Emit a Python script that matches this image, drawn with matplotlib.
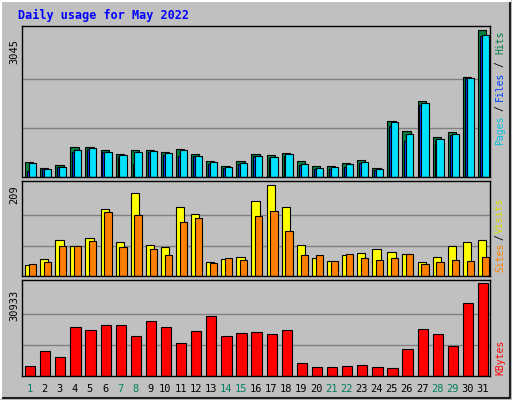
import matplotlib
matplotlib.use("Agg")
import matplotlib.pyplot as plt
import numpy as np

days = list(range(1, 32))
weekend = [1, 7, 8, 14, 15, 21, 22, 28, 29]
hits = [309,188,249,632,632,551,470,571,551,511,591,470,329,228,329,470,450,491,329,228,228,289,349,188,1156,954,1579,833,934,2083,3045]
files = [289,168,208,551,611,511,450,511,531,491,551,430,309,208,289,430,410,470,269,188,208,269,309,168,1136,894,1539,793,894,2063,2950]
pages = [128,168,208,511,591,511,410,269,511,450,430,430,269,188,269,430,390,430,249,168,168,208,289,148,1055,753,1499,773,874,2063,2930]
visits = [26,39,83,68,87,153,77,189,72,66,157,142,32,39,43,172,209,157,72,41,34,47,53,62,56,51,32,43,68,77,83]
sites = [28,32,68,68,79,146,66,140,62,49,123,132,30,41,37,138,149,102,47,47,34,51,41,37,41,51,28,32,37,34,43]
kbytes = [3354,8220,6275,16334,15360,16983,16983,13413,18280,16334,10817,15035,19902,13413,14386,14710,14062,15360,4327,3029,3029,3354,3677,3029,2704,8869,15684,14062,9843,24120,30933]

W, H = 512, 400
BG = "#C0C0C0"
fig = plt.figure(figsize=(W/100, H/100), dpi=100, facecolor=BG)
mono = "DejaVu Sans Mono"

bax = fig.add_axes([0, 0, 1, 1]); bax.set_xlim(0, W); bax.set_ylim(H, 0); bax.axis("off")
bax.plot([1, W-2, W-2], [H-2, H-2, 1], color="#202020", lw=1.5)
bax.plot([1, 1, W-2], [H-2, 1, 1], color="white", lw=1.5)
bax.text(18, 15, "Daily usage for May 2022", color="#0000FF", fontsize=8.5, fontweight="bold",
         family=mono, va="center")

def panel(top, bottom):
    ax = fig.add_axes([22/W, 1-bottom/H, (490-22)/W, (bottom-top)/H])
    ax.set_facecolor(BG)
    ax.set_xlim(0.5, 31.5)
    ax.set_xticks([]); ax.set_yticks([])
    for s in ax.spines.values():
        s.set_color("black"); s.set_linewidth(1)
    return ax

def grid(ax, vmax, gmax):
    ax.set_ylim(0, vmax)
    for f in (1/3, 2/3):
        ax.axhline(gmax*f, color="#808080", lw=1, zorder=0)

def bars(ax, vals, x0, w, color):
    ax.bar(np.array(days)+x0, vals, width=w, align="edge", color=color, edgecolor="black", lw=0.8, zorder=2)

def side(items):
    for txt, c, y in items:
        fig.text(500/W, 1-y/H, txt, rotation=90, fontsize=7, family=mono, color=c, va="center", ha="center")

ax1 = panel(26, 177); grid(ax1, 3045*1.03, 3045)
bars(ax1, hits, -0.3, 0.55, "#008040")
bars(ax1, pages, -0.17, 0.3, "#0040FF")
bars(ax1, files, -0.05, 0.48, "#00E0FF")
fig.text(14/W, 1-52/H, "3045", rotation=90, fontsize=7.5, family=mono, va="center", ha="center")
side([("Hits", "#008040", 42), ("/", "black", 64), ("Files", "#0040FF", 86), ("/", "black", 108), ("Pages", "#00C0E0", 130)])

ax2 = panel(181, 276); grid(ax2, 209*1.04, 209)
bars(ax2, visits, -0.3, 0.55, "#FFFF00")
bars(ax2, sites, -0.05, 0.48, "#FF8000")
fig.text(14/W, 1-195/H, "209", rotation=90, fontsize=7.5, family=mono, va="center", ha="center")
side([("Visits", "#E0E000", 215), ("/", "black", 237), ("Sites", "#FF8000", 257)])

ax3 = panel(280, 376); grid(ax3, 30933*1.03, 30933)
bars(ax3, kbytes, -0.3, 0.68, "#FF0000")
fig.text(14/W, 1-305/H, "30933", rotation=90, fontsize=7.5, family=mono, va="center", ha="center")
side([("KBytes", "#FF0000", 357)])
for d in days:
    xpix = 22 + (d - 0.5) * (468/31)
    fig.text(xpix/W, 1-389/H, str(d), fontsize=7.5, family=mono, ha="center", va="center",
             color="#008060" if d in weekend else "black")

fig.savefig("out.png", dpi=100, facecolor=BG)
